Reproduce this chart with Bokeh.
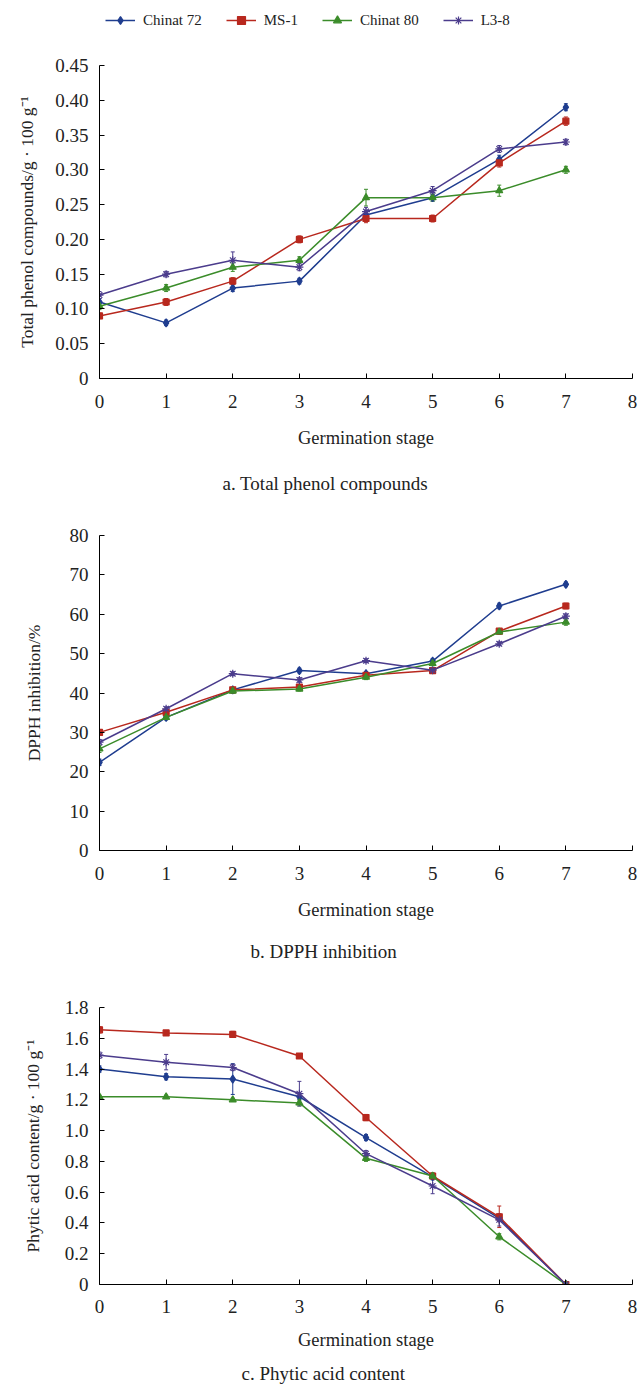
from bokeh.plotting import figure
from bokeh.models import Legend, LegendItem, Title, Range1d, ColumnDataSource, Whisker, FixedTicker, TeeHead
from bokeh.layouts import column
from bokeh.embed import file_html
from bokeh.resources import INLINE

stages = [0, 1, 2, 3, 4, 5, 6, 7]
series_names = ["Chinat 72", "MS-1", "Chinat 80", "L3-8"]
series_colors = ["#1f3d8f", "#b8281e", "#3b8c2a", "#4b3c8c"]
series_markers = ["diamond", "square", "triangle", "asterisk"]
series_sizes = [8, 6, 7, 8]

x_ticks = [0, 1, 2, 3, 4, 5, 6, 7, 8]
x_tick_labels = ["0", "1", "2", "3", "4", "5", "6", "7", "8"]

# a. Total phenol compounds
phenol_chinat72 = [0.11, 0.08, 0.13, 0.14, 0.235, 0.26, 0.315, 0.39]
phenol_ms1 = [0.09, 0.11, 0.14, 0.20, 0.23, 0.23, 0.31, 0.37]
phenol_chinat80 = [0.104, 0.13, 0.16, 0.17, 0.26, 0.26, 0.27, 0.30]
phenol_l38 = [0.12, 0.15, 0.17, 0.16, 0.24, 0.27, 0.33, 0.34]
phenol_err_chinat72 = [0.005, 0.004, 0.005, 0.004, 0.006, 0.005, 0.006, 0.005]
phenol_err_ms1 = [0.004, 0.005, 0.005, 0.005, 0.006, 0.005, 0.006, 0.006]
phenol_err_chinat80 = [0.005, 0.005, 0.006, 0.005, 0.012, 0.005, 0.008, 0.005]
phenol_err_l38 = [0.005, 0.004, 0.012, 0.005, 0.006, 0.006, 0.005, 0.004]
phenol_ticks = [0, 0.05, 0.10, 0.15, 0.20, 0.25, 0.30, 0.35, 0.40, 0.45]
phenol_tick_labels = ["0", "0.05", "0.10", "0.15", "0.20", "0.25", "0.30", "0.35", "0.40", "0.45"]

# b. DPPH inhibition
dpph_chinat72 = [22.4, 33.8, 40.8, 45.7, 44.9, 48.1, 62.1, 67.6]
dpph_ms1 = [30.0, 35.1, 40.8, 41.5, 44.5, 45.7, 55.7, 62.1]
dpph_chinat80 = [25.8, 33.8, 40.5, 41.0, 44.0, 47.5, 55.5, 58.0]
dpph_l38 = [27.5, 36.0, 44.9, 43.3, 48.2, 45.8, 52.5, 59.5]
dpph_err_chinat72 = [0.8, 0.6, 0.5, 0.6, 0.5, 0.6, 0.7, 0.6]
dpph_err_ms1 = [0.7, 0.6, 0.5, 0.5, 0.6, 0.5, 0.6, 0.7]
dpph_err_chinat80 = [0.9, 0.6, 0.6, 0.5, 0.6, 0.6, 0.6, 0.8]
dpph_err_l38 = [0.7, 0.5, 0.5, 0.6, 0.5, 0.6, 0.5, 0.6]
dpph_ticks = [0, 10, 20, 30, 40, 50, 60, 70, 80]
dpph_tick_labels = ["0", "10", "20", "30", "40", "50", "60", "70", "80"]

# c. Phytic acid content
phytic_chinat72 = [1.40, 1.35, 1.335, 1.22, 0.955, 0.70, 0.43, 0.0]
phytic_ms1 = [1.655, 1.635, 1.625, 1.485, 1.085, 0.705, 0.44, 0.0]
phytic_chinat80 = [1.22, 1.22, 1.20, 1.18, 0.82, 0.705, 0.31, 0.0]
phytic_l38 = [1.49, 1.445, 1.41, 1.24, 0.85, 0.64, 0.42, 0.0]
phytic_err_chinat72 = [0.02, 0.02, 0.10, 0.02, 0.02, 0.02, 0.02, 0.0]
phytic_err_ms1 = [0.02, 0.01, 0.02, 0.01, 0.02, 0.02, 0.07, 0.0]
phytic_err_chinat80 = [0.01, 0.01, 0.01, 0.02, 0.02, 0.02, 0.02, 0.0]
phytic_err_l38 = [0.02, 0.05, 0.02, 0.08, 0.02, 0.05, 0.04, 0.0]
phytic_ticks = [0, 0.2, 0.4, 0.6, 0.8, 1.0, 1.2, 1.4, 1.6, 1.8]
phytic_tick_labels = ["0", "0.2", "0.4", "0.6", "0.8", "1.0", "1.2", "1.4", "1.6", "1.8"]

FONT = "Liberation Serif"
TXT = "#222222"
FIG_W = 638
LEFT = 99


def add_series(p, values, errors, visible=True):
    items = []
    for name, col, mk, sz, ys, es in zip(series_names, series_colors, series_markers,
                                          series_sizes, values, errors):
        src = ColumnDataSource(dict(x=stages, y=ys,
                                    lo=[a - b for a, b in zip(ys, es)],
                                    hi=[a + b for a, b in zip(ys, es)]))
        if visible:
            w = Whisker(source=src, base="x", lower="lo", upper="hi",
                        line_color=col, line_width=1,
                        lower_head=TeeHead(size=4, line_color=col),
                        upper_head=TeeHead(size=4, line_color=col))
            p.add_layout(w)
        ln = p.line("x", "y", source=src, line_color=col, line_width=1.5)
        sc = p.scatter("x", "y", source=src, marker=mk, size=sz,
                       fill_color=col, line_color=col, line_width=1.2)
        ln.visible = visible
        sc.visible = visible
        items.append(LegendItem(label=name, renderers=[ln, sc]))
    return items


def make_legend(values, errors):
    p = figure(width=FIG_W, height=50, output_backend="svg", toolbar_location=None,
               x_range=Range1d(100, 101), y_range=Range1d(100, 101),
               min_border_left=87, min_border_right=0, min_border_top=4, min_border_bottom=0)
    p.axis.visible = False
    p.grid.visible = False
    p.outline_line_color = None
    items = add_series(p, values, errors, visible=False)
    lg = Legend(items=items, orientation="horizontal", location="top_left",
                label_text_font=FONT, label_text_font_size="15px",
                label_text_color=TXT, border_line_color=None,
                background_fill_alpha=0, margin=6, padding=2, spacing=24,
                glyph_width=30, label_standoff=8)
    p.add_layout(lg, "center")
    return p


def make_panel(values, errors, ymax, yticks, ylabels, ylabel, ylabel_standoff,
               caption, cap_offset, cap_standoff, height, top, frame_h,
               tick_standoff=16, xlabel_standoff=17):
    bottom = height - top - frame_h
    p = figure(width=FIG_W, height=height, output_backend="svg", toolbar_location=None,
               x_range=Range1d(0, 8), y_range=Range1d(0, ymax),
               min_border_left=LEFT, min_border_right=FIG_W - LEFT - 533,
               min_border_top=top, min_border_bottom=bottom)
    p.outline_line_color = None
    p.xgrid.visible = False
    p.ygrid.visible = False

    add_series(p, values, errors)

    for ax in (p.xaxis[0], p.yaxis[0]):
        ax.major_tick_in = 5
        ax.major_tick_out = 0
        ax.minor_tick_line_color = None
        ax.axis_line_color = "black"
        ax.major_tick_line_color = "black"
        ax.major_label_text_font = FONT
        ax.major_label_text_font_size = "19px"
        ax.major_label_text_color = TXT
        ax.axis_label_text_font = FONT
        ax.axis_label_text_font_style = "normal"
        ax.axis_label_text_color = TXT

    p.xaxis.ticker = FixedTicker(ticks=x_ticks)
    p.xaxis.major_label_overrides = {t: l for t, l in zip(x_ticks, x_tick_labels)}
    p.xaxis.major_label_standoff = tick_standoff
    p.xaxis.axis_label = "Germination stage"
    p.xaxis.axis_label_text_font_size = "18.5px"
    p.xaxis.axis_label_standoff = xlabel_standoff

    p.yaxis.ticker = FixedTicker(ticks=yticks)
    p.yaxis.major_label_overrides = {t: l for t, l in zip(yticks, ylabels)}
    p.yaxis.major_label_standoff = 11
    p.yaxis.axis_label = ylabel
    p.yaxis.axis_label_text_font_size = "17.5px"
    p.yaxis.axis_label_standoff = ylabel_standoff

    cap = Title(text=caption, align="left", offset=cap_offset, text_font=FONT,
                text_font_size="19px", text_font_style="normal", text_color=TXT,
                standoff=cap_standoff)
    p.add_layout(cap, "below")
    return p


phenol_values = [phenol_chinat72, phenol_ms1, phenol_chinat80, phenol_l38]
phenol_errors = [phenol_err_chinat72, phenol_err_ms1, phenol_err_chinat80, phenol_err_l38]

lg = make_legend(phenol_values, phenol_errors)
pa = make_panel(phenol_values, phenol_errors,
                0.45, phenol_ticks, phenol_tick_labels,
                "Total phenol compounds/g \u00b7 100 g\u207b\u00b9", 15,
                "a. Total phenol compounds", 123, 40, 465, 15, 313)
pb = make_panel([dpph_chinat72, dpph_ms1, dpph_chinat80, dpph_l38],
                [dpph_err_chinat72, dpph_err_ms1, dpph_err_chinat80, dpph_err_l38],
                80, dpph_ticks, dpph_tick_labels,
                "DPPH inhibition/%", 23, "b. DPPH inhibition", 151, 32, 472, 20, 315)
pc = make_panel([phytic_chinat72, phytic_ms1, phytic_chinat80, phytic_l38],
                [phytic_err_chinat72, phytic_err_ms1, phytic_err_chinat80, phytic_err_l38],
                1.8, phytic_ticks, phytic_tick_labels,
                "Phytic acid content/g \u00b7 100 g\u207b\u00b9", 19,
                "c. Phytic acid content", 142, 17, 408, 20, 277,
                tick_standoff=15, xlabel_standoff=14)

layout = column(lg, pa, pb, pc, spacing=0)
open("out.html", "w").write(file_html(layout, INLINE))
